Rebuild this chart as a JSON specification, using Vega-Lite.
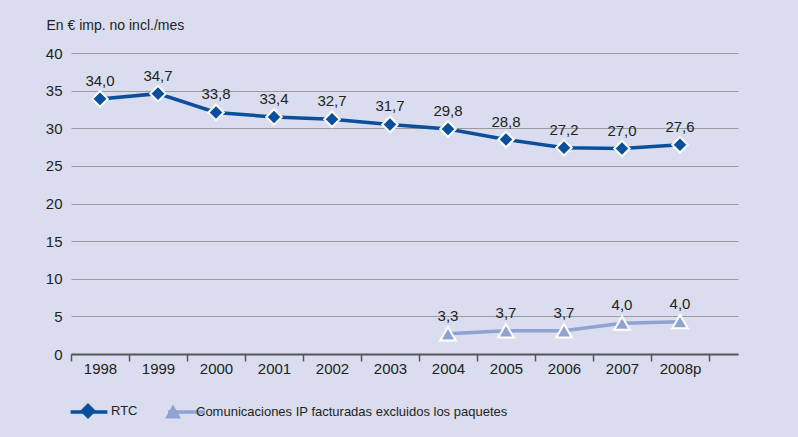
{
  "$schema": "https://vega.github.io/schema/vega-lite/v6.json",
  "width": 667,
  "height": 301,
  "autosize": {"type": "none"},
  "padding": {"left": 71, "top": 53, "right": 60, "bottom": 83},
  "background": "#d9ddef",
  "config": {
    "view": {"stroke": null},
    "font": "Liberation Sans",
    "axis": {"labelFont": "Liberation Sans", "titleFont": "Liberation Sans", "labelColor": "#231f20", "titleColor": "#231f20"},
    "legend": {"labelFont": "Liberation Sans", "labelColor": "#231f20", "labelLimit": 500}
  },
  "data": {
    "values": [
      {"anio": "1998", "serie": "RTC", "valor": 33.9, "etiqueta": "34,0"},
      {"anio": "1999", "serie": "RTC", "valor": 34.6, "etiqueta": "34,7"},
      {"anio": "2000", "serie": "RTC", "valor": 32.1, "etiqueta": "33,8"},
      {"anio": "2001", "serie": "RTC", "valor": 31.5, "etiqueta": "33,4"},
      {"anio": "2002", "serie": "RTC", "valor": 31.2, "etiqueta": "32,7"},
      {"anio": "2003", "serie": "RTC", "valor": 30.5, "etiqueta": "31,7"},
      {"anio": "2004", "serie": "RTC", "valor": 29.9, "etiqueta": "29,8"},
      {"anio": "2005", "serie": "RTC", "valor": 28.5, "etiqueta": "28,8"},
      {"anio": "2006", "serie": "RTC", "valor": 27.4, "etiqueta": "27,2"},
      {"anio": "2007", "serie": "RTC", "valor": 27.3, "etiqueta": "27,0"},
      {"anio": "2008p", "serie": "RTC", "valor": 27.8, "etiqueta": "27,6"},
      {"anio": "2004", "serie": "Comunicaciones IP facturadas excluidos los paquetes", "valor": 2.7, "etiqueta": "3,3"},
      {"anio": "2005", "serie": "Comunicaciones IP facturadas excluidos los paquetes", "valor": 3.1, "etiqueta": "3,7"},
      {"anio": "2006", "serie": "Comunicaciones IP facturadas excluidos los paquetes", "valor": 3.1, "etiqueta": "3,7"},
      {"anio": "2007", "serie": "Comunicaciones IP facturadas excluidos los paquetes", "valor": 4.1, "etiqueta": "4,0"},
      {"anio": "2008p", "serie": "Comunicaciones IP facturadas excluidos los paquetes", "valor": 4.3, "etiqueta": "4,0"}
    ]
  },
  "encoding": {
    "x": {
      "field": "anio",
      "type": "ordinal",
      "sort": null,
      "bandPosition": 0.5,
      "scale": {"type": "band", "paddingInner": 0, "paddingOuter": 0.25, "align": 0},
      "axis": {
        "title": null,
        "labelAngle": 0,
        "labelFontSize": 15,
        "labelPadding": 0,
        "tickBand": "extent",
        "tickSize": 7,
        "tickColor": "#555555",
        "tickWidth": 1.5,
        "domainColor": "#555555",
        "domainWidth": 2,
        "grid": false
      }
    },
    "y": {
      "field": "valor",
      "type": "quantitative",
      "scale": {"domain": [0, 40], "nice": false},
      "axis": {
        "values": [0, 5, 10, 15, 20, 25, 30, 35, 40],
        "domain": false,
        "ticks": false,
        "grid": true,
        "gridColor": "#9c9c9c",
        "gridWidth": 1.2,
        "labelFontSize": 15,
        "labelPadding": 9,
        "title": "En € imp. no incl./mes",
        "titleAngle": 0,
        "titleAlign": "left",
        "titleBaseline": "middle",
        "titleFontSize": 14,
        "titleFontWeight": "normal",
        "titleX": -25,
        "titleY": -28
      }
    }
  },
  "layer": [
    {
      "mark": {"type": "line", "strokeWidth": 3.5},
      "encoding": {
        "stroke": {
          "field": "serie",
          "type": "nominal",
          "scale": {"domain": ["RTC", "Comunicaciones IP facturadas excluidos los paquetes"], "range": ["#0b4f9c", "#8fa3d3"]},
          "legend": {
            "title": null,
            "orient": "none",
            "direction": "horizontal",
            "legendX": 8,
            "legendY": 349,
            "padding": 0,
            "symbolType": "M-2.3,0H2.3",
            "symbolSize": 256,
            "symbolStrokeWidth": 3.5,
            "labelFontSize": 13,
            "labelOffset": 14,
            "columnPadding": 45.5,
            "labelExpr": "''"
          }
        }
      }
    },
    {
      "mark": {"type": "point", "filled": true, "opacity": 1, "stroke": "white", "strokeWidth": 2, "size": 240},
      "encoding": {
        "shape": {
          "field": "serie",
          "type": "nominal",
          "sort": "descending",
          "scale": {"range": ["diamond", "triangle-up"]},
          "legend": {
            "title": null,
            "orient": "none",
            "direction": "horizontal",
            "legendX": 8,
            "legendY": 349,
            "padding": 0,
            "symbolSize": 256,
            "symbolStrokeColor": "white",
            "symbolStrokeWidth": 2,
            "labelFontSize": 13,
            "labelOffset": 14,
            "columnPadding": 23
          }
        },
        "fill": {
          "field": "serie",
          "type": "nominal",
          "sort": "descending",
          "scale": {"range": ["#0b4f9c", "#8fa3d3"]},
          "legend": {
            "title": null,
            "orient": "none",
            "direction": "horizontal",
            "legendX": 8,
            "legendY": 349,
            "padding": 0,
            "symbolSize": 256,
            "symbolStrokeColor": "white",
            "symbolStrokeWidth": 2,
            "labelFontSize": 13,
            "labelOffset": 14,
            "columnPadding": 23
          }
        }
      }
    },
    {
      "mark": {"type": "text", "dy": -18, "fontSize": 15, "baseline": "middle", "color": "#231f20"},
      "encoding": {"text": {"field": "etiqueta"}}
    }
  ]
}
